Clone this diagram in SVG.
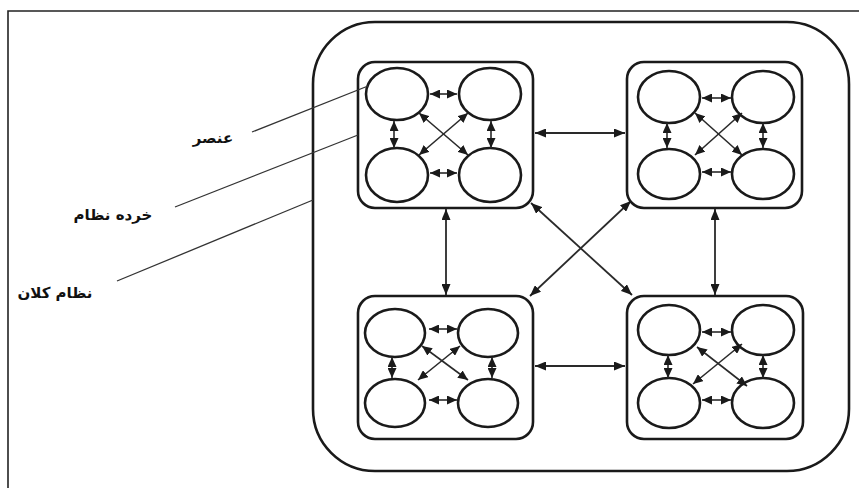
<svg xmlns="http://www.w3.org/2000/svg" width="859" height="488" viewBox="0 0 859 488">
  <style>
    .frame { fill: none; stroke: #222; stroke-width: 1.6; }
    .macro { fill: none; stroke: #1a1a1a; stroke-width: 2.6; }
    .micro { fill: #fff; stroke: #1a1a1a; stroke-width: 2.6; }
    .elem { fill: #fff; stroke: #1a1a1a; stroke-width: 2.6; }
    .link { fill: none; stroke: #2a2a2a; stroke-width: 1.8; marker-start: url(#headL); marker-end: url(#headL); }
    .ilink { fill: none; stroke: #2a2a2a; stroke-width: 1.6; marker-start: url(#headS); marker-end: url(#headS); }
    .lead { fill: none; stroke: #333; stroke-width: 1.3; }
    .label { font-family: "DejaVu Sans", "Noto Sans", sans-serif; font-size: 15px; font-weight: bold; fill: #111; }
  </style>
  <defs>
    <marker id="headL" viewBox="0 0 11 9" refX="11" refY="4.5" markerWidth="11" markerHeight="9" markerUnits="userSpaceOnUse" orient="auto-start-reverse">
      <path d="M0,0 L11,4.5 L0,9 z" fill="#1a1a1a"/>
    </marker>
    <marker id="headS" viewBox="0 0 10 9" refX="10" refY="4.5" markerWidth="10" markerHeight="9" markerUnits="userSpaceOnUse" orient="auto-start-reverse">
      <path d="M0,0 L10,4.5 L0,9 z" fill="#1a1a1a"/>
    </marker>
  </defs>

  <rect width="859" height="488" fill="#fff"/>
  <!-- page frame -->
  <path class="frame" d="M8,488 V11 H859"/>

  <!-- macro system -->
  <g id="macro-system">
    <rect class="macro" x="313" y="22" width="536" height="449" rx="62" ry="62"/>
  </g>

  <!-- connectors between subsystems -->
  <g id="connectors">
    <line class="link" x1="535" y1="133" x2="625" y2="133"/>
    <line class="link" x1="535" y1="366" x2="625" y2="366"/>
    <line class="link" x1="446" y1="209" x2="446" y2="295"/>
    <line class="link" x1="715" y1="209" x2="715" y2="295"/>
    <line class="link" x1="531" y1="203" x2="632" y2="295"/>
    <line class="link" x1="631" y1="201" x2="530" y2="296"/>
  </g>

  <!-- subsystem top-left -->
  <g id="micro-tl">
    <rect class="micro" x="358" y="62" width="175" height="146" rx="17"/>
    <ellipse class="elem" cx="397" cy="94" rx="31" ry="26"/>
    <ellipse class="elem" cx="490" cy="94" rx="31" ry="26"/>
    <ellipse class="elem" cx="397" cy="175" rx="31" ry="27"/>
    <ellipse class="elem" cx="490" cy="175" rx="31" ry="27"/>
    <line class="ilink" x1="430" y1="94" x2="457" y2="94"/>
    <line class="ilink" x1="430" y1="173" x2="457" y2="173"/>
    <line class="ilink" x1="394" y1="121" x2="394" y2="148"/>
    <line class="ilink" x1="491" y1="121" x2="491" y2="148"/>
    <line class="ilink" x1="419" y1="113" x2="468" y2="155"/>
    <line class="ilink" x1="468" y1="113" x2="419" y2="155"/>
  </g>

  <!-- subsystem top-right -->
  <g id="micro-tr">
    <rect class="micro" x="627" y="62" width="175" height="146" rx="17"/>
    <ellipse class="elem" cx="669" cy="97" rx="31" ry="26"/>
    <ellipse class="elem" cx="763" cy="97" rx="31" ry="26"/>
    <ellipse class="elem" cx="669" cy="174" rx="31" ry="25"/>
    <ellipse class="elem" cx="763" cy="174" rx="31" ry="25"/>
    <line class="ilink" x1="702" y1="98" x2="731" y2="98"/>
    <line class="ilink" x1="702" y1="172" x2="731" y2="172"/>
    <line class="ilink" x1="667" y1="123" x2="667" y2="148"/>
    <line class="ilink" x1="763" y1="123" x2="763" y2="148"/>
    <line class="ilink" x1="695" y1="113" x2="742" y2="155"/>
    <line class="ilink" x1="742" y1="113" x2="695" y2="155"/>
  </g>

  <!-- subsystem bottom-left -->
  <g id="micro-bl">
    <rect class="micro" x="358" y="296" width="175" height="143" rx="17"/>
    <ellipse class="elem" cx="395" cy="333" rx="30" ry="24"/>
    <ellipse class="elem" cx="488" cy="333" rx="30" ry="24"/>
    <ellipse class="elem" cx="395" cy="403" rx="30" ry="24"/>
    <ellipse class="elem" cx="488" cy="403" rx="30" ry="24"/>
    <line class="ilink" x1="429" y1="329" x2="457" y2="329"/>
    <line class="ilink" x1="429" y1="400" x2="457" y2="400"/>
    <line class="ilink" x1="392" y1="357" x2="392" y2="378"/>
    <line class="ilink" x1="492" y1="357" x2="492" y2="378"/>
    <line class="ilink" x1="422" y1="346" x2="468" y2="380"/>
    <line class="ilink" x1="460" y1="346" x2="418" y2="380"/>
  </g>

  <!-- subsystem bottom-right -->
  <g id="micro-br">
    <rect class="micro" x="627" y="296" width="176" height="143" rx="17"/>
    <ellipse class="elem" cx="669" cy="330" rx="31" ry="25"/>
    <ellipse class="elem" cx="763" cy="330" rx="31" ry="25"/>
    <ellipse class="elem" cx="669" cy="403" rx="31" ry="25"/>
    <ellipse class="elem" cx="763" cy="403" rx="31" ry="25"/>
    <line class="ilink" x1="702" y1="332" x2="731" y2="332"/>
    <line class="ilink" x1="702" y1="400" x2="731" y2="400"/>
    <line class="ilink" x1="668" y1="355" x2="668" y2="378"/>
    <line class="ilink" x1="763" y1="355" x2="763" y2="378"/>
    <line class="ilink" x1="697" y1="347" x2="747" y2="386"/>
    <line class="ilink" x1="742" y1="344" x2="693" y2="384"/>
  </g>

  <!-- labels with leader lines -->
  <g id="label-element">
    <line class="lead" x1="252" y1="132" x2="368" y2="86"/>
    <text class="label" x="213" y="143" text-anchor="middle">عنصر</text>
  </g>
  <g id="label-subsystem">
    <line class="lead" x1="175" y1="207" x2="358" y2="135"/>
    <text class="label" x="113" y="220" text-anchor="middle">خرده نظام</text>
  </g>
  <g id="label-system">
    <line class="lead" x1="117" y1="281" x2="313" y2="200"/>
    <text class="label" x="55" y="298" text-anchor="middle">نظام کلان</text>
  </g>
</svg>
